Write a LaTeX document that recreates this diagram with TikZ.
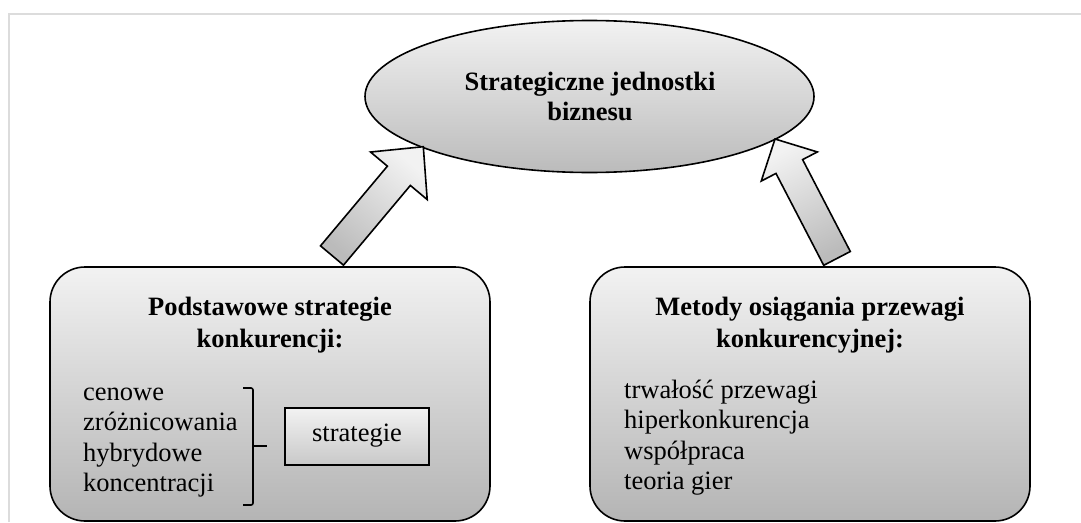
\documentclass[tikz,border=0pt]{standalone}
\usepackage{fontspec}
\setmainfont{Liberation Serif}
\usetikzlibrary{calc,shapes.geometric}
\definecolor{gLight}{HTML}{F2F2F2}
\definecolor{gDark}{HTML}{BBBBBB}
\definecolor{frameGray}{HTML}{DCDCDC}
\newcommand\blockarrow[6]{%
  \coordinate (ba-b) at ($(#2)!#5!(#1)$);
  \path[arrowbody, shading angle=#6]
    ($(#1)!#3!90:(#2)$) -- ($(ba-b)!#3!-90:(#1)$) -- ($(ba-b)!#4!-90:(#1)$) -- (#2)
    -- ($(ba-b)!#4!90:(#1)$) -- ($(ba-b)!#3!90:(#1)$) -- ($(#1)!#3!-90:(#2)$) -- cycle;
}
\tikzset{
  bigbox/.style={draw=black, line width=1.6pt, rounded corners=35pt, top color=gLight, bottom color=gDark!110!white, minimum width=440pt, minimum height=254pt, inner sep=0pt},
  ovalnode/.style={draw=black, line width=1.6pt, ellipse, top color=gLight, bottom color=gDark, minimum width=449pt, minimum height=152pt, inner sep=0pt},
  arrowbody/.style={draw=black, line width=1.6pt, line join=miter, top color=gLight, bottom color=gDark},
  smallbox/.style={draw=black, line width=1.4pt, top color=gLight, bottom color=gDark!80!white, minimum width=144pt, minimum height=57pt, inner sep=0pt},
  txt/.style={font=\fontsize{26.5}{30.5}\selectfont, inner sep=0pt},
  ttl/.style={font=\fontsize{26.5}{32}\selectfont\bfseries, inner sep=0pt, align=center},
}
\begin{document}
\begin{tikzpicture}[x=1pt,y=-1pt]
\useasboundingbox (0,0) rectangle (1081,522);
% light frame
\draw[frameGray, line width=1.5pt] (9,522) -- (9,14) -- (1081,14);
% ellipse
\node[ovalnode] (sjb) at (589.5,96.5) {};
\node[ttl, anchor=base] (sjbt) at (590,90) {Strategiczne jednostki};
\node[ttl, anchor=base] (sjbt2) at (590,120) {biznesu};
% boxes
\node[bigbox] (lbox) at (270,394) {};
\node[bigbox] (rbox) at (810,394) {};
% arrows
\coordinate (la-tail) at (332,255.5);
\coordinate (la-tip) at (423.3,146.7);
\coordinate (ra-tail) at (837,258.4);
\coordinate (ra-tip) at (775,139);
\blockarrow{la-tail}{la-tip}{15pt}{37pt}{38pt}{-40}
\blockarrow{ra-tail}{ra-tip}{15pt}{31.6pt}{31pt}{27.5}
% left box content
\node[ttl, anchor=base] (lt1) at (270,315) {Podstawowe strategie};
\node[ttl, anchor=base] (lt2) at (270,347) {konkurencji:};
\node[txt, anchor=base west] (l1) at (83,400) {cenowe};
\node[txt, anchor=base west] (l2) at (83,430.5) {zróżnicowania};
\node[txt, anchor=base west] (l3) at (83,461) {hybrydowe};
\node[txt, anchor=base west] (l4) at (83,491.5) {koncentracji};
\coordinate (br-top) at (243,388);
\coordinate (br-bot) at (243,505);
\draw[line width=1.6pt, rounded corners=2pt] (br-top) -- (253,388) -- (253,505) -- (br-bot);
\coordinate (br-tick) at (253,446);
\node[smallbox] (strat) at (357,436.5) {};
\node[txt, anchor=base] (stratt) at (357,441.5) {strategie};
\draw[line width=1.6pt] (br-tick) -- ++(14,0);
% right box content
\node[ttl, anchor=base] (rt1) at (810,315) {Metody osiągania przewagi};
\node[ttl, anchor=base] (rt2) at (810,347) {konkurencyjnej:};
\node[txt, anchor=base west] (r1) at (624,398) {trwałość przewagi};
\node[txt, anchor=base west] (r2) at (624,428.5) {hiperkonkurencja};
\node[txt, anchor=base west] (r3) at (624,459) {współpraca};
\node[txt, anchor=base west] (r4) at (624,489.5) {teoria gier};
\end{tikzpicture}
\end{document}
